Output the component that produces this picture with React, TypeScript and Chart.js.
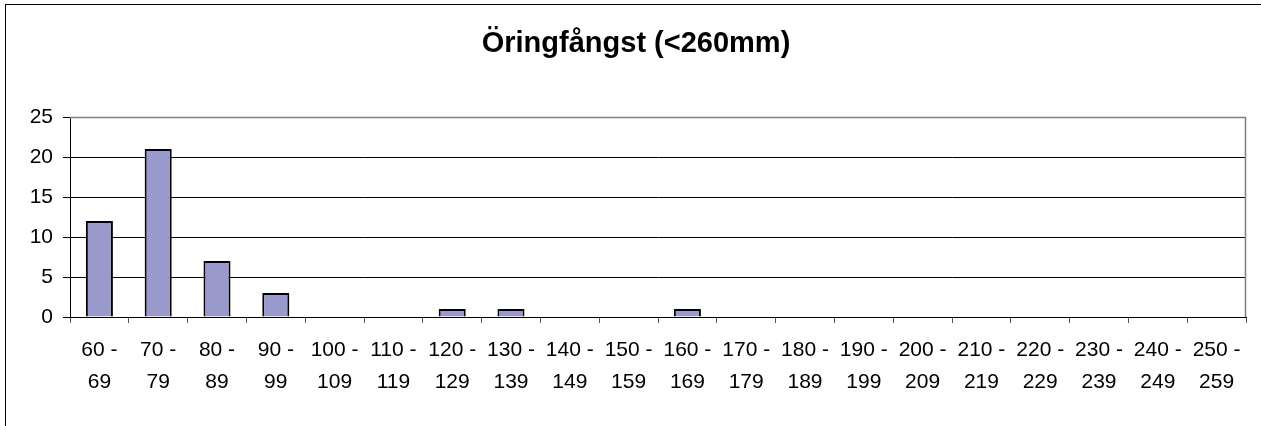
import React, { useEffect, useRef } from "react";
import { Chart, registerables } from "chart.js";

Chart.register(...registerables);

const titleText = "Öringfångst (<260mm)";
const rangeStarts = [60, 70, 80, 90, 100, 110, 120, 130, 140, 150, 160, 170, 180, 190, 200, 210, 220, 230, 240, 250];
const rangeEnds = [69, 79, 89, 99, 109, 119, 129, 139, 149, 159, 169, 179, 189, 199, 209, 219, 229, 239, 249, 259];
const counts = [12, 21, 7, 3, 0, 0, 1, 1, 0, 0, 1, 0, 0, 0, 0, 0, 0, 0, 0, 0];
const yTicks = [0, 5, 10, 15, 20, 25];

const FONT = "Arial, 'Liberation Sans', sans-serif";

export default function App() {
  const ref = useRef<HTMLCanvasElement>(null);
  useEffect(() => {
    if (!ref.current) return;
    const labels = rangeStarts.map((s, i) => [`${s} -`, `${rangeEnds[i]}`]);
    const framePlugin = {
      id: "frame",
      afterDraw(chart: any) {
        const { ctx, chartArea } = chart;
        ctx.save();
        ctx.strokeStyle = "#808080";
        ctx.lineWidth = 1.5;
        ctx.beginPath();
        ctx.moveTo(chartArea.left, chartArea.top + 0.5);
        ctx.lineTo(chartArea.right - 0.5, chartArea.top + 0.5);
        ctx.lineTo(chartArea.right - 0.5, chartArea.bottom);
        ctx.stroke();
        ctx.fillStyle = "#000";
        ctx.font = `bold 29px ${FONT}`;
        ctx.textAlign = "center";
        ctx.textBaseline = "alphabetic";
        ctx.fillText(titleText, 636, 52);
        ctx.restore();
      },
    };
    const chart = new Chart(ref.current, {
      type: "bar",
      data: {
        labels,
        datasets: [
          {
            data: counts,
            backgroundColor: "#9999CC",
            borderColor: "#000000",
            borderWidth: 2,
            barPercentage: 0.46,
            categoryPercentage: 1,
          },
        ],
      },
      options: {
        animation: false,
        responsive: false,
        maintainAspectRatio: false,
        layout: { padding: { left: 0, right: 15, top: 117, bottom: 0 } },
        plugins: { legend: { display: false }, tooltip: { enabled: false }, title: { display: false } },
        scales: {
          x: {
            offset: true,
            grid: {
              offset: true,
              drawOnChartArea: false,
              drawTicks: true,
              tickLength: 6,
              color: "#555",
            },
            border: { color: "#000", width: 1 },
            ticks: {
              color: "#000",
              font: { family: FONT, size: 21, lineHeight: 32 / 21 },
              padding: 11,
              maxRotation: 0,
              autoSkip: false,
            },
            afterFit(scale: any) {
              scale.height = 109;
            },
          },
          y: {
            min: 0,
            max: 25,
            afterBuildTicks(scale: any) {
              scale.ticks = yTicks.map((v) => ({ value: v }));
            },
            grid: { color: "#000", tickLength: 7, drawTicks: true },
            border: { color: "#000", width: 1 },
            ticks: {
              color: "#000",
              font: { family: FONT, size: 21 },
              padding: 10,
            },
            afterFit(scale: any) {
              scale.width = 70;
            },
          },
        },
      },
      plugins: [framePlugin],
    });
    return () => chart.destroy();
  }, []);
  return (
    <div style={{ position: "absolute", left: 0, top: 0, width: 1261, height: 426, background: "#fff", overflow: "hidden" }}>
      <div
        style={{
          position: "absolute",
          left: 5,
          top: 4,
          width: 1300,
          height: 500,
          borderLeft: "1.5px solid #000",
          borderTop: "1.5px solid #000",
        }}
      />
      <canvas ref={ref} width={1261} height={426} style={{ position: "absolute", left: 0, top: 0 }} />
    </div>
  );
}
